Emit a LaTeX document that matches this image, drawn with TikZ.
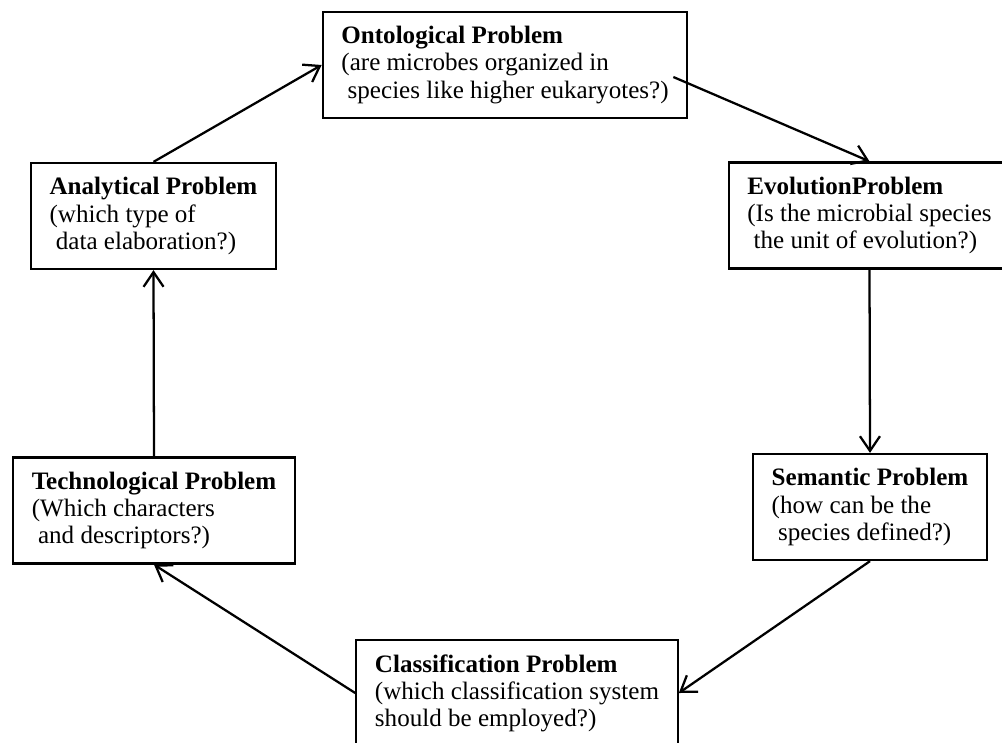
\documentclass[tikz,border=0pt]{standalone}
\usepackage{fontspec}
\setmainfont{Liberation Serif}
\usepackage{tikz}
\usetikzlibrary{calc,shapes,positioning}
\usetikzlibrary{arrows.meta}
\tikzset{>={Straight Barb[width=15pt,length=11pt]}}

\begin{document}
\begin{tikzpicture}[x=0.75pt,y=-0.75pt,line width=1.7pt]
    \tikzstyle{pbox} = [draw=black, rectangle, inner xsep=14pt, inner ysep=0pt, minimum height=79.5pt, align=left, font=\fontsize{18.8pt}{20.3pt}\selectfont]

    \useasboundingbox (0,0) rectangle (1002,742);

    \node[pbox] (onto) at (505,65) {\textbf{Ontological Problem}\\(are microbes organized in\\\ species like higher eukaryotes?)};

    \node[pbox] (evol) at (869.5,215.5) {\textbf{EvolutionProblem}\\(Is the microbial species\\\ the unit of evolution?)};

    \node[pbox] (sema) at (870,507) {\textbf{Semantic Problem}\\(how can be the\\\ species defined?)};

    \node[pbox] (clas) at (517,693) {\textbf{Classification Problem}\\(which classification system\\should be employed?)};

    \node[pbox] (tech) at (154,510.5) {\textbf{Technological Problem}\\(Which characters\\\ and descriptors?)};

    \node[pbox] (anal) at (153.5,216) {\textbf{Analytical Problem}\\(which type of\\\ data elaboration?)};

    \draw[->] (anal.north) -- (onto.west);
    \draw[->] ($(onto.east)+(-15,12)$) -- (evol.north);
    \draw[->] (evol.south) -- (sema.north);
    \draw[->] (sema.south) -- (clas.east);
    \draw[->] (clas.west) -- (tech.south);
    \draw[->] (tech.north) -- (anal.south);

\end{tikzpicture}
\end{document}
